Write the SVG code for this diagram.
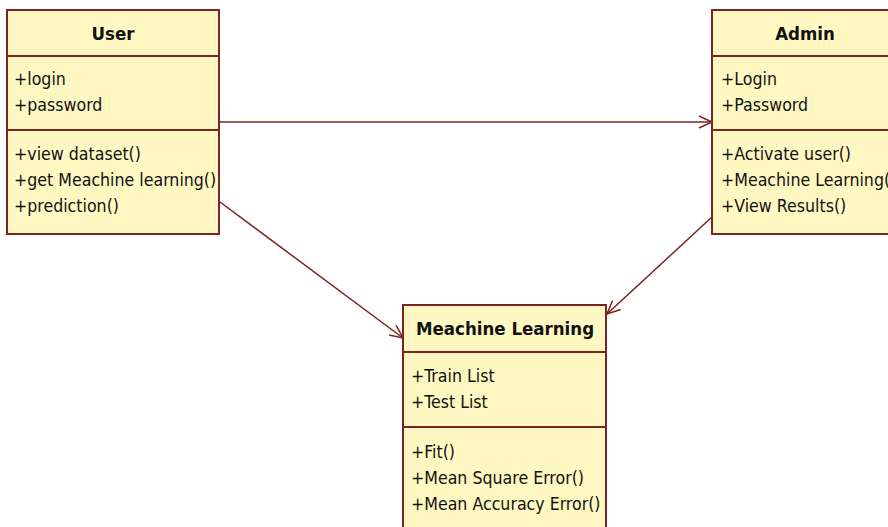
<svg xmlns="http://www.w3.org/2000/svg" width="888" height="527" viewBox="0 0 888 527">
<style>
.box{fill:#FFF8C2;stroke:#7A2424;stroke-width:2}
.sep{stroke:#7A2424;stroke-width:2}
.t{font-family:"DejaVu Sans Condensed","DejaVu Sans",sans-serif;font-size:17.6px;fill:#111}
.h{font-family:"DejaVu Sans Condensed","DejaVu Sans",sans-serif;font-size:18.5px;font-weight:bold;fill:#111;text-anchor:middle}
.c{stroke:#7A2424;stroke-width:1.5;fill:none}
</style>
<defs>
<marker id="a" markerWidth="16" markerHeight="14" refX="14" refY="7" orient="auto" markerUnits="userSpaceOnUse">
<path d="M1,1 L14,7 L1,13" fill="none" stroke="#7A2424" stroke-width="1.5"/>
</marker>
</defs>
<rect width="888" height="527" fill="#fff"/>
<g id="connectors">
<line class="c" x1="219" y1="122" x2="712" y2="122" marker-end="url(#a)"/>
<line class="c" x1="220" y1="202" x2="403" y2="338" marker-end="url(#a)"/>
<line class="c" x1="712" y1="217" x2="607" y2="314" marker-end="url(#a)"/>
</g>
<g id="user">
<rect class="box" x="7" y="10" width="212" height="224"/>
<line class="sep" x1="7" y1="56" x2="219" y2="56"/>
<line class="sep" x1="7" y1="130" x2="219" y2="130"/>
<text class="h" x="113" y="40">User</text>
<text class="t" x="14" y="85">+login</text>
<text class="t" x="14" y="111">+password</text>
<text class="t" x="14" y="160">+view dataset()</text>
<text class="t" x="14" y="186">+get Meachine learning()</text>
<text class="t" x="14" y="212">+prediction()</text>
</g>
<g id="admin">
<rect class="box" x="712" y="10" width="190" height="224"/>
<line class="sep" x1="712" y1="56" x2="888" y2="56"/>
<line class="sep" x1="712" y1="130" x2="888" y2="130"/>
<text class="h" x="805" y="40">Admin</text>
<text class="t" x="721" y="85">+Login</text>
<text class="t" x="721" y="111">+Password</text>
<text class="t" x="721" y="160">+Activate user()</text>
<text class="t" x="721" y="186">+Meachine Learning()</text>
<text class="t" x="721" y="212">+View Results()</text>
</g>
<g id="ml">
<rect class="box" x="403" y="305" width="203" height="240"/>
<line class="sep" x1="403" y1="352" x2="606" y2="352"/>
<line class="sep" x1="403" y1="427" x2="606" y2="427"/>
<text class="h" x="505" y="335">Meachine Learning</text>
<text class="t" x="411" y="382">+Train List</text>
<text class="t" x="411" y="408">+Test List</text>
<text class="t" x="411" y="458">+Fit()</text>
<text class="t" x="411" y="484">+Mean Square Error()</text>
<text class="t" x="411" y="510">+Mean Accuracy Error()</text>
</g>
</svg>
